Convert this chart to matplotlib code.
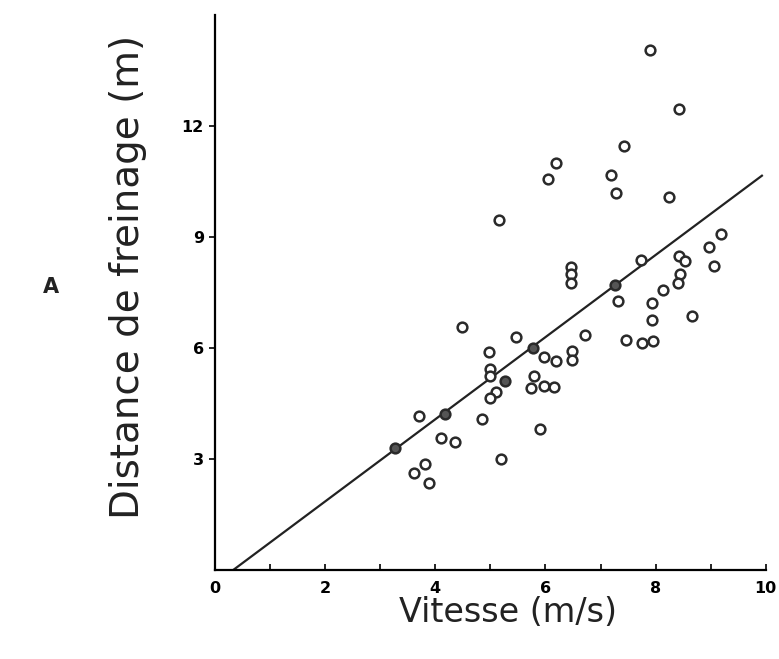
import matplotlib.pyplot as plt
from matplotlib.ticker import MultipleLocator

# vitesse (m/s) et distance de freinage (m)
vitesse = [7.90, 8.43, 7.42, 6.19, 6.05, 7.19, 7.28, 8.25, 5.16, 9.19,
           8.97, 9.06, 7.74, 8.43, 8.54, 6.46, 6.46, 6.46, 8.44, 8.41,
           8.14, 7.31, 7.94, 7.94, 8.66, 6.71, 7.47, 7.76, 7.96, 4.48,
           5.47, 4.98, 6.48, 6.48, 5.97, 6.19, 4.99, 5.00, 5.79, 5.74,
           5.98, 6.16, 5.10, 5.00, 4.85, 5.90, 3.70, 4.10, 4.35, 5.20,
           3.81, 3.61, 3.88]
distance = [14.07, 12.47, 11.47, 11.00, 10.57, 10.67, 10.18, 10.09, 9.45, 9.09,
            8.74, 8.22, 8.39, 8.48, 8.36, 8.20, 8.00, 7.76, 8.01, 7.77,
            7.58, 7.27, 7.22, 6.77, 6.87, 6.36, 6.22, 6.14, 6.20, 6.57,
            6.29, 5.89, 5.92, 5.67, 5.75, 5.64, 5.43, 5.24, 5.24, 4.93,
            4.97, 4.95, 4.81, 4.64, 4.09, 3.81, 4.17, 3.56, 3.46, 3.01,
            2.86, 2.63, 2.34]

# points sombres (superposés à la droite)
vitesse_pleins = [3.27, 4.18, 5.26, 5.77, 7.26]
distance_pleins = [3.30, 4.23, 5.11, 6.01, 7.70]

# droite de régression
droite_x = [0.33, 9.93]
droite_y = [0.0, 10.66]

fig = plt.figure(figsize=(7.79, 6.59), dpi=100)
ax = fig.add_axes([0.276, 0.135, 0.707, 0.842])

ax.plot(droite_x, droite_y, color='#222222', lw=1.6)
ax.plot(vitesse, distance, 'o', ms=7, mfc='white', mec='#2a2a2a', mew=1.8)
ax.plot(vitesse_pleins, distance_pleins, 'o', ms=7, mfc='#555555', mec='#2a2a2a', mew=1.8)

ax.set_xlim(0, 10)
ax.set_ylim(0, 15)
ax.spines['top'].set_visible(False)
ax.spines['right'].set_visible(False)
ax.spines['left'].set_linewidth(1.6)
ax.spines['bottom'].set_linewidth(1.6)

ax.xaxis.set_major_locator(MultipleLocator(2))
ax.xaxis.set_minor_locator(MultipleLocator(1))
ax.set_yticks([3, 6, 9, 12])
ax.tick_params(axis='x', which='both', direction='in', length=4, width=1.2, labelsize=11.5, pad=8)
ax.tick_params(axis='y', direction='out', length=4, width=1.2, labelsize=11.5, pad=4)
for lab in ax.get_xticklabels() + ax.get_yticklabels():
    lab.set_fontweight('bold')

fig.text(0.652, 0.07, 'Vitesse (m/s)', fontsize=24, ha='center', va='center', color='#222222')
fig.text(0.164, 0.58, 'Distance de freinage (m)', fontsize=28, rotation=90,
         ha='center', va='center', color='#222222')
fig.text(0.066, 0.565, 'A', fontsize=15, fontweight='bold', ha='center', va='center', color='#222222')

fig.savefig('out.png', dpi=100)
